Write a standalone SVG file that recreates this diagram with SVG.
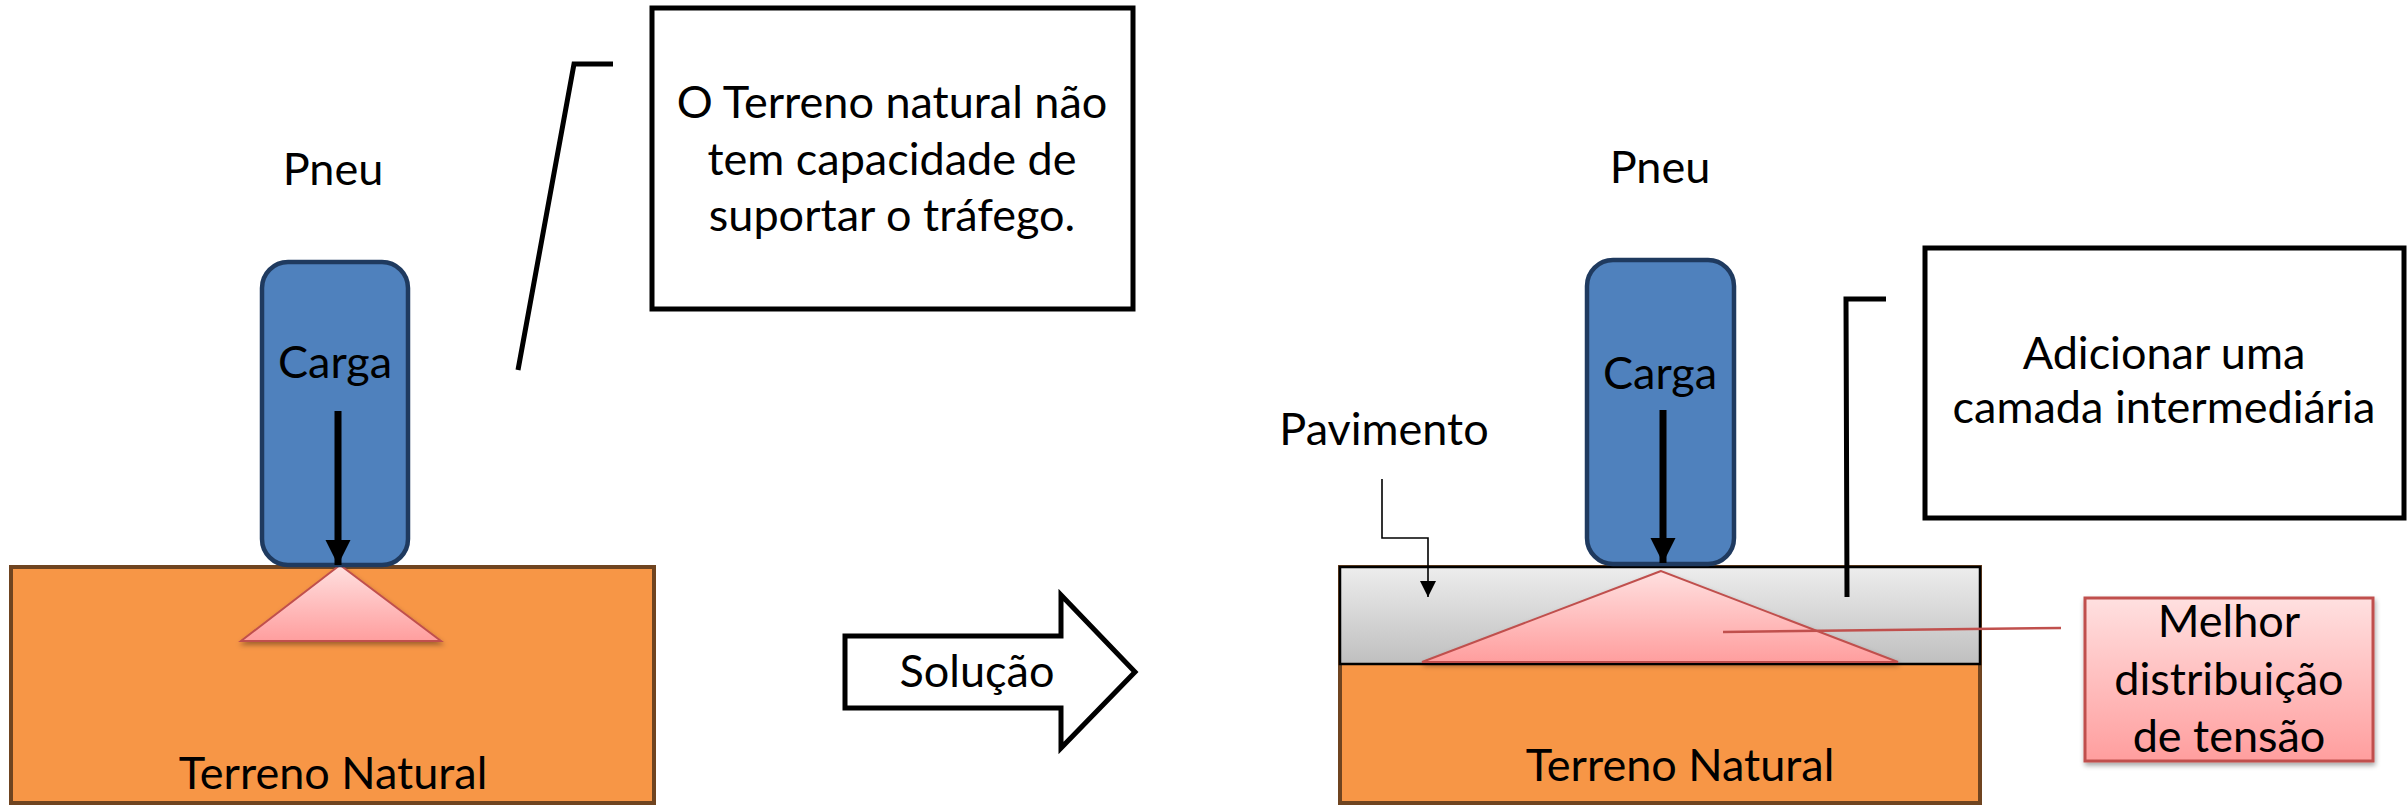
<svg xmlns="http://www.w3.org/2000/svg" width="2407" height="805" viewBox="0 0 2407 805">
<style>
  text { font-family: Lato, "Open Sans", "Liberation Sans", sans-serif; font-size: 45px; fill: #000; text-anchor: middle; }
  .soil { fill: #F79646; stroke: #6F4420; stroke-width: 4; }
  .tire { fill: #4F81BD; stroke: #1F3A5F; stroke-width: 4.5; }
  .tri { fill: url(#gPink); stroke: #C0504D; stroke-width: 2; filter: url(#sh); }
  .callout { fill: #fff; stroke: #000; stroke-width: 5; }
  .cline { fill: none; stroke: #000; stroke-width: 5; }
  .load { stroke: #000; stroke-width: 7; marker-end: url(#mLoad); }
</style>
<defs>
  <linearGradient id="gPink" x1="0" y1="0" x2="0" y2="1">
    <stop offset="0" stop-color="#FFE0E0"/>
    <stop offset="1" stop-color="#FF9E9E"/>
  </linearGradient>
  <linearGradient id="gGrey" x1="0" y1="0" x2="0" y2="1">
    <stop offset="0" stop-color="#EDEDED"/>
    <stop offset="1" stop-color="#BFBFBF"/>
  </linearGradient>
  <filter id="sh" x="-10%" y="-10%" width="130%" height="140%">
    <feDropShadow dx="1" dy="3" stdDeviation="2.5" flood-color="#000" flood-opacity="0.35"/>
  </filter>
  <marker id="mLoad" viewBox="0 0 10 10" refX="10" refY="5" markerWidth="3.6" markerHeight="3.6" orient="auto" markerUnits="strokeWidth">
    <path d="M0,0 L10,5 L0,10 Z" fill="#000"/>
  </marker>
  <marker id="mThin" viewBox="0 0 10 10" refX="10" refY="5" markerWidth="10" markerHeight="10" orient="auto" markerUnits="strokeWidth">
    <path d="M0,0 L10,5 L0,10 Z" fill="#000"/>
  </marker>
</defs>
<rect width="2407" height="805" fill="#fff"/>

<!-- LEFT SCENE -->
<g id="terreno-left">
  <rect class="soil" x="11" y="567" width="643" height="236"/>
  <text x="333" y="789">Terreno Natural</text>
</g>
<g id="tension-left">
  <polygon class="tri" points="340,565 241,641 441,641"/>
</g>
<g id="pneu-left">
  <text x="333" y="185">Pneu</text>
  <rect class="tire" x="262" y="262" width="146" height="303" rx="26"/>
  <text x="335" y="378">Carga</text>
</g>
<g id="callout-left">
  <rect class="callout" x="652" y="8" width="481" height="301"/>
  <text x="892" y="118">O Terreno natural não</text>
  <text x="892" y="175">tem capacidade de</text>
  <text x="892" y="231">suportar o tráfego.</text>
</g>

<!-- SOLUTION ARROW -->
<g id="solucao">
  <polygon points="845,636 1061,636 1061,595 1135,672 1061,748 1061,708 845,708" fill="#fff" stroke="#000" stroke-width="5" stroke-linejoin="miter"/>
  <text x="977" y="687">Solução</text>
</g>

<!-- RIGHT SCENE -->
<g id="terreno-right">
  <rect class="soil" x="1340" y="567" width="640" height="236"/>
  <text x="1680" y="781">Terreno Natural</text>
</g>
<g id="pavimento">
  <rect x="1340" y="567" width="640" height="97" fill="url(#gGrey)" stroke="#000" stroke-width="2.5"/>
  <text x="1384" y="445">Pavimento</text>
</g>
<g id="tension-right">
  <polygon class="tri" points="1661,571 1422,662 1898,662"/>
</g>
<g id="pneu-right">
  <text x="1660" y="183">Pneu</text>
  <rect class="tire" x="1587" y="260" width="147" height="304" rx="26"/>
  <text x="1660" y="389">Carga</text>
</g>
<g id="callout-right">
  <rect class="callout" x="1925" y="248" width="479" height="270"/>
  <text x="2164" y="369">Adicionar uma</text>
  <text x="2164" y="423">camada intermediária</text>
</g>
<g id="melhor">
  <rect x="2085" y="598" width="288" height="163" fill="url(#gPink)" stroke="#C0504D" stroke-width="3" filter="url(#sh)"/>
  <text x="2229" y="637">Melhor</text>
  <text x="2229" y="695">distribuição</text>
  <text x="2229" y="752">de tensão</text>
</g>

<!-- CONNECTORS -->
<g id="connectors">
  <line class="load" x1="338" y1="411" x2="338" y2="565"/>
  <line class="load" x1="1663" y1="410" x2="1663" y2="563"/>
  <polyline class="cline" points="613,64 574,64 518,370"/>
  <polyline class="cline" points="1886,299 1846,299 1847,597"/>
  <polyline points="1382,479 1382,538 1428,538 1428,597" fill="none" stroke="#000" stroke-width="1.6" marker-end="url(#mThin)"/>
  <line x1="1723" y1="632" x2="2061" y2="628" stroke="#C0504D" stroke-width="2.5"/>
</g>
</svg>
